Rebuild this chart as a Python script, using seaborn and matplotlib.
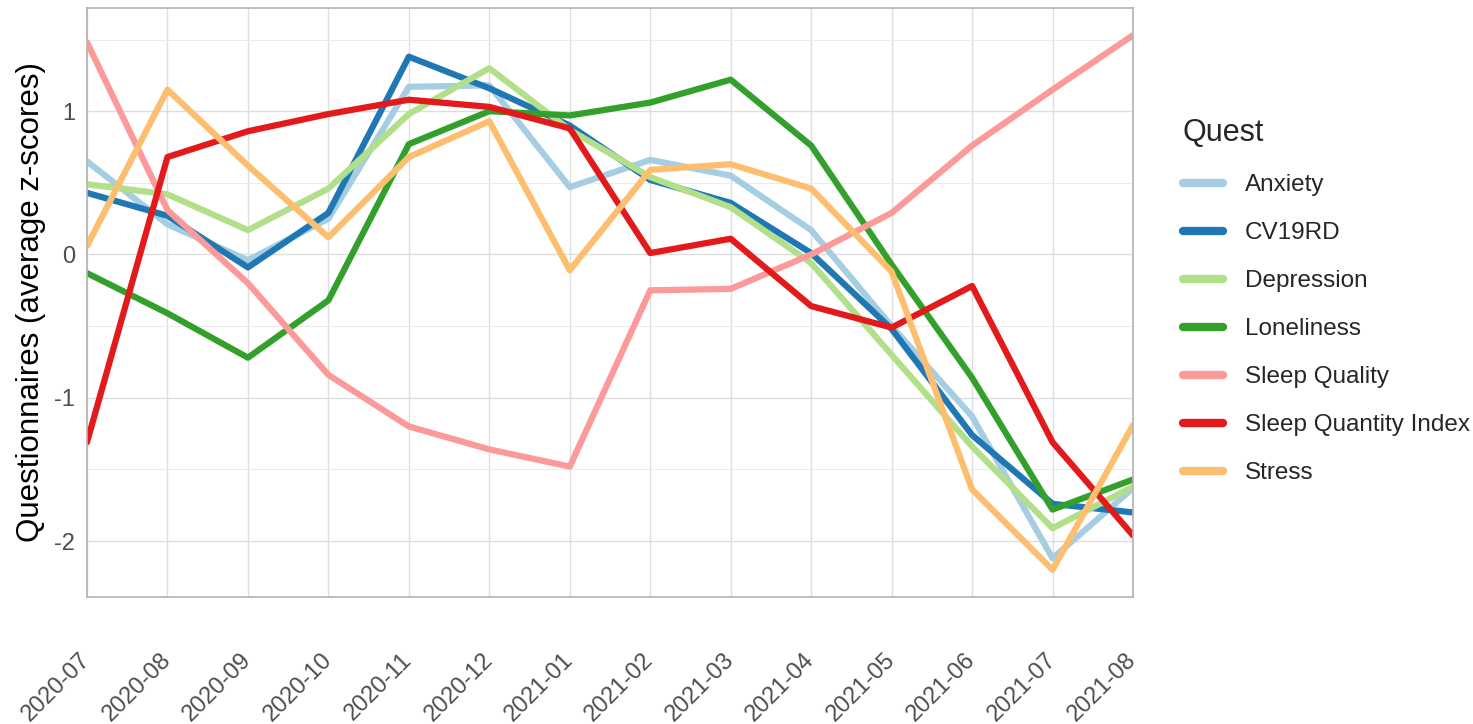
import pandas as pd
import matplotlib
matplotlib.use("Agg")
import matplotlib.pyplot as plt
import seaborn as sns
from matplotlib.ticker import MultipleLocator

months = ["2020-07", "2020-08", "2020-09", "2020-10", "2020-11", "2020-12", "2021-01",
          "2021-02", "2021-03", "2021-04", "2021-05", "2021-06", "2021-07", "2021-08"]

anxiety = [0.65, 0.21, -0.04, 0.25, 1.17, 1.18, 0.47, 0.66, 0.55, 0.17, -0.50, -1.13, -2.12, -1.63]
cv19rd = [0.43, 0.27, -0.09, 0.29, 1.38, 1.16, 0.90, 0.52, 0.36, 0.01, -0.52, -1.26, -1.74, -1.80]
depression = [0.49, 0.42, 0.17, 0.46, 0.98, 1.30, 0.87, 0.54, 0.33, -0.06, -0.70, -1.34, -1.91, -1.62]
loneliness = [-0.13, -0.41, -0.72, -0.32, 0.77, 1.00, 0.97, 1.06, 1.22, 0.76, -0.07, -0.86, -1.78, -1.57]
sleep_quality = [1.48, 0.31, -0.20, -0.84, -1.20, -1.36, -1.48, -0.25, -0.24, 0.00, 0.29, 0.76, 1.15, 1.53]
sleep_quantity = [-1.31, 0.68, 0.86, 0.98, 1.08, 1.03, 0.88, 0.01, 0.11, -0.36, -0.51, -0.22, -1.31, -1.96]
stress = [0.06, 1.15, 0.62, 0.12, 0.68, 0.93, -0.11, 0.59, 0.63, 0.46, -0.12, -1.64, -2.20, -1.19]

quest_names = ["Anxiety", "CV19RD", "Depression", "Loneliness",
               "Sleep Quality", "Sleep Quantity Index", "Stress"]
series = [anxiety, cv19rd, depression, loneliness, sleep_quality, sleep_quantity, stress]

rows = []
for name, vals in zip(quest_names, series):
    for m, v in zip(months, vals):
        rows.append({"month": m, "z": v, "Quest": name})
df = pd.DataFrame(rows)

sns.set_style("white")
plt.rcParams["font.family"] = ["Liberation Sans", "DejaVu Sans"]

fig = plt.figure(figsize=(14.73, 7.24), dpi=100)
ax = fig.add_axes([87 / 1473, 1 - 597 / 724, (1133 - 87) / 1473, (597 - 8) / 724])

palette = sns.color_palette("Paired", 7)
sns.lineplot(data=df, x="month", y="z", hue="Quest", hue_order=quest_names,
             palette=palette, linewidth=4.5, ax=ax, sort=False)

ax.set_xlim(0, len(months) - 1)
ax.set_ylim(-2.39, 1.72)
ax.yaxis.set_major_locator(MultipleLocator(1))
ax.yaxis.set_minor_locator(MultipleLocator(0.5))
ax.grid(True, which="major", color="#DEDEDE", linewidth=1.0)
ax.grid(True, which="minor", axis="y", color="#EBEBEB", linewidth=0.7)
ax.set_axisbelow(True)
for s in ax.spines.values():
    s.set_color("#B3B3B3")
    s.set_linewidth(1.2)

ax.tick_params(axis="both", which="major", colors="#B3B3B3", length=5, width=1,
               labelcolor="#4D4D4D", labelsize=17)
ax.tick_params(axis="y", which="minor", length=0)
ax.tick_params(axis="x", pad=38)
ax.set_xticks(range(len(months)))
ax.set_xticklabels(months, rotation=45, ha="right", rotation_mode="anchor", va="center")
ax.set_yticks([-2, -1, 0, 1])
ax.set_yticklabels(["-2", "-1", "0", "1"])

ax.set_xlabel("")
ax.set_ylabel("Questionnaires (average z-scores)", fontsize=22.5, color="black", labelpad=6)

handles, labels = ax.get_legend_handles_labels()
leg = ax.legend(handles, labels, title="Quest", frameon=False, loc="upper left",
                bbox_to_anchor=(0.788, 0.867), bbox_transform=fig.transFigure,
                fontsize=17.5, title_fontsize=22, handlelength=1.65, handletextpad=0.9,
                labelspacing=1.07, alignment="left")
for line in leg.get_lines():
    line.set_linewidth(6)

fig.savefig("out.png", dpi=100)
